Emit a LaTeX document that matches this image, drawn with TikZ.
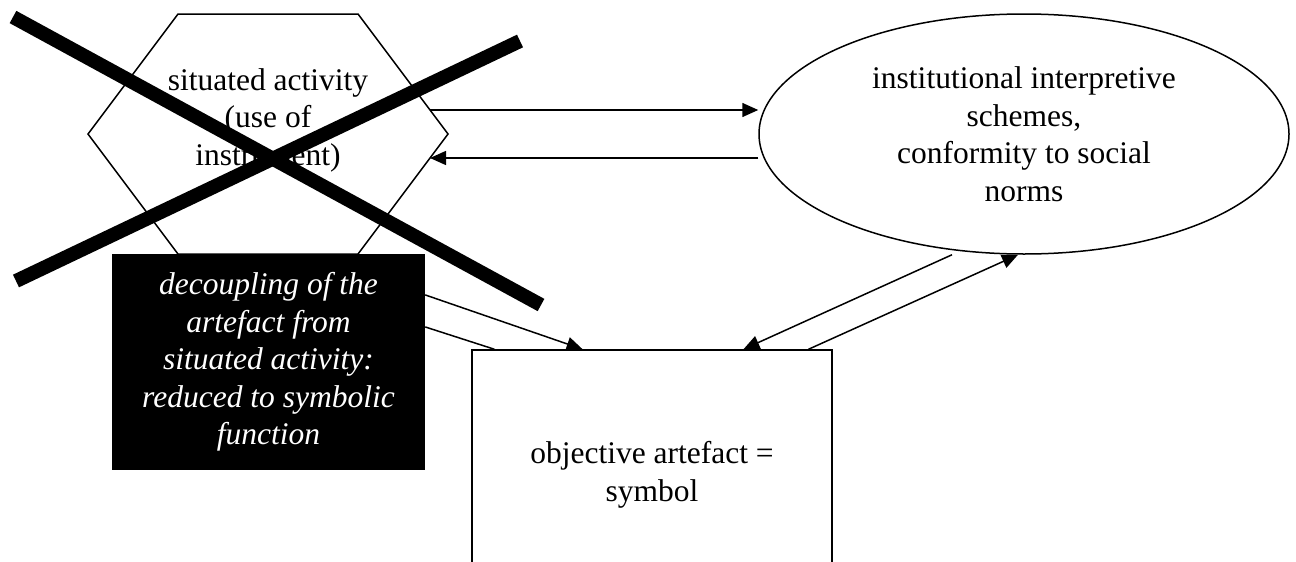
\documentclass[tikz,border=0pt]{standalone}
\usepackage{fontspec}
\setmainfont{Liberation Serif}
\usetikzlibrary{arrows.meta,calc,shapes.geometric}
\begin{document}
\begin{tikzpicture}[x=1pt,y=-1pt,
  thinline/.style={line width=1.5pt},
  arr/.style={line width=1.5pt,-{Triangle[length=16pt,width=14pt]}},
  labeltext/.style={font=\fontsize{31.5}{37.5}\selectfont, align=center},
  cross/.style={line width=14pt}]
\clip (0,0) rectangle (1296,562);
\fill[white] (0,0) rectangle (1296,562);

% hexagon: situated activity
\coordinate (hNW) at (178,14);
\coordinate (hNE) at (358,14);
\coordinate (hE)  at (448,134);
\coordinate (hSE) at (358,254);
\coordinate (hSW) at (178,254);
\coordinate (hW)  at (88,134);
\draw[thinline, fill=white] (hNW) -- (hNE) -- (hE) -- (hSE) -- (hSW) -- (hW) -- cycle;
\node[labeltext] (hex) at (268,120) {situated activity\\(use of\\instrument)};

% black box
\node[fill=black, minimum width=313pt, minimum height=216pt, inner sep=0pt,
      labeltext, text=white] (dec) at (268.5,362)
  {\itshape decoupling of the\\\itshape artefact from\\\itshape situated activity:\\\itshape reduced to symbolic\\\itshape function};

% ellipse: institutional schemes
\node[ellipse, draw, thinline, fill=white, minimum width=530pt, minimum height=240pt,
      inner sep=0pt, labeltext] (inst) at (1024,134)
  {institutional interpretive\\schemes,\\conformity to social\\norms};

% rectangle: objective artefact
\node[draw, thinline, fill=white, minimum width=360pt, minimum height=250pt,
      inner sep=0pt, labeltext] (obj) at (652,475)
  {objective artefact =\\symbol};

% connectors between hexagon and ellipse
\coordinate (hA) at ($(hNE)!0.8!(hE)$);
\coordinate (hB) at ($(hE)!0.2!(hSE)$);
\draw[arr] (hA) -- (hA -| inst.west);
\draw[arr] (hB -| inst.west) -- (hB);

% connectors from the black box to the rectangle
\draw[arr] ($(dec.north east)!0.19!(dec.south east)$) -- ($(obj.north west)!0.308!(obj.north east)$);
\draw[thinline] ($(dec.north east)!0.338!(dec.south east)$) -- ($(obj.north west)!0.064!(obj.north east)$);

% connectors between ellipse and rectangle
\draw[arr] ([xshift=-72pt]inst.south) -- ($(obj.north west)!0.753!(obj.north east)$);
\draw[arr] ($(obj.north west)!0.933!(obj.north east)$) -- ([xshift=-6pt]inst.south);

% strike-out cross
\coordinate (x1a) at (13,17);
\coordinate (x1b) at (541,305);
\coordinate (x2a) at (16,281);
\coordinate (x2b) at (520,41);
\draw[cross] (x1a) -- (x1b);
\draw[cross] (x2a) -- (x2b);
\end{tikzpicture}
\end{document}
